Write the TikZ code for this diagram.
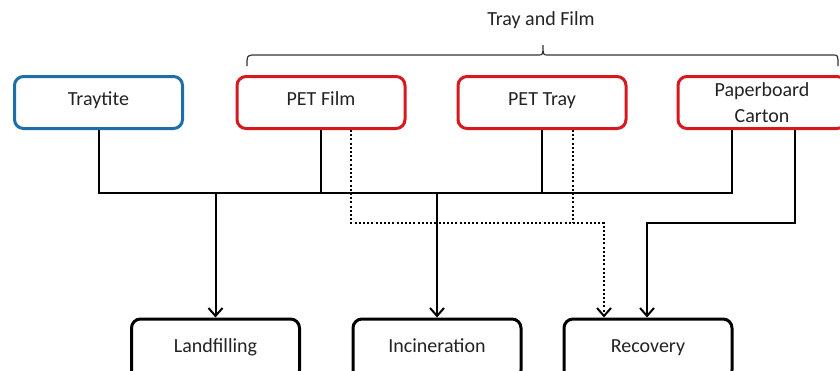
\documentclass[tikz,border=0pt]{standalone}
\usepackage{fontspec}
\setmainfont{Carlito}
\usetikzlibrary{arrows.meta}
\definecolor{bluebox}{RGB}{30,110,170}
\definecolor{redbox}{RGB}{215,25,30}
\definecolor{txt}{RGB}{35,35,35}
\tikzset{
  box/.style={draw, rounded corners=9pt, line width=3pt, minimum width=168pt, minimum height=52pt,
    align=center, text=txt, font=\fontsize{20}{26}\selectfont, fill=white,
    text height=1.45ex, text depth=0.15ex},
  srcbox/.style={box, draw=redbox},
  bluesrc/.style={box, draw=bluebox},
  endbox/.style={box, draw=black, minimum height=60pt},
  conn/.style={line width=2pt, black},
  dotconn/.style={line width=2pt, black, dash pattern=on 2pt off 2.2pt},
  arr/.style={-{Straight Barb[length=8pt,width=14pt,line width=2pt]}},
  brace/.style={line width=1.2pt, black!80}
}
\begin{document}
\begin{tikzpicture}[x=1pt,y=-1pt]
\useasboundingbox (0,0) rectangle (840,370);
\clip (0,0) rectangle (840,370);
\fill[white] (0,0) rectangle (840,370);

\node[bluesrc] (tr) at (98.5,102.5) {Traytite};
\node[srcbox] (pf) at (321,102.5) {PET Film};
\node[srcbox] (pt) at (542,102.5) {PET Tray};
\node[srcbox, text height=, text depth=] (pc) at (762,102.5) {Paperboard\\Carton};

\node[endbox] (lf) at (215.5,349) {Landfilling};
\node[endbox] (in) at (437,349) {Incineration};
\node[endbox] (rc) at (648,349) {Recovery};

% brace and label
\node[text=txt, font=\fontsize{20}{24}\selectfont] (tf) at (541,20) {Tray and Film};
\coordinate (bL) at (247,66);
\coordinate (bM) at (543,45);
\coordinate (bR) at (838,66);
\draw[brace] (bL) .. controls (247,56) .. (252,55) -- (538,55) .. controls (543,55) .. (bM)
  .. controls (543,55) .. (548,55) -- (833,55) .. controls (838,55) .. (bR);

% bus
\coordinate (bl) at (98.5,193);
\coordinate (br) at (732,193);
\coordinate (jr) at (647,223);
\coordinate (jd) at (604,223);

\draw[conn] (tr.south) -- (bl) -- (br) -- (br |- pc.south);
\draw[conn] (pf.south) -- (pf.south |- bl);
\draw[conn] (pt.south) -- (pt.south |- bl);
\draw[conn,arr] (lf.north |- bl) -- (lf.north);
\draw[conn,arr] (in.north |- bl) -- (in.north);

\draw[conn,arr] ([xshift=33pt]pc.south) |- (jr) -- (jr |- rc.north);

\draw[dotconn,arr] ([xshift=30pt]pf.south) |- (jd) -- (jd |- rc.north);
\draw[dotconn] ([xshift=31pt]pt.south) -- ([xshift=31pt]pt.south |- jd);
\end{tikzpicture}
\end{document}
